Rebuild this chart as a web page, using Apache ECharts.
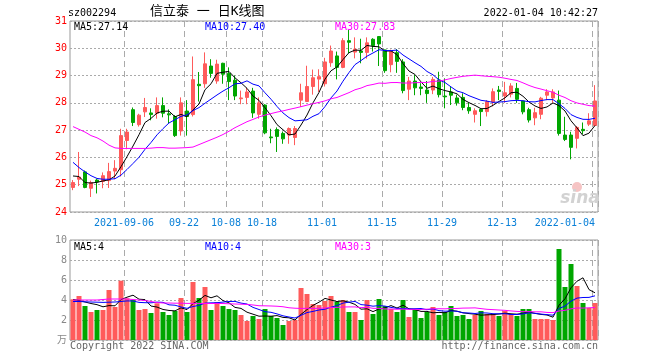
<!DOCTYPE html>
<html>
<head>
<meta charset="utf-8">
<script src="https://cdn.jsdelivr.net/npm/echarts@6/dist/echarts.min.js"></script>
<style>
html,body{margin:0;padding:0;background:#fff;}
#chart{width:660px;height:360px;}
</style>
</head>
<body>
<div id="chart"></div>
<script>
// ---- data ----
const dates = [
'2021-08-24','2021-08-25','2021-08-26','2021-08-27','2021-08-30','2021-08-31',
'2021-09-01','2021-09-02','2021-09-03','2021-09-06','2021-09-07','2021-09-08','2021-09-09','2021-09-10',
'2021-09-13','2021-09-14','2021-09-15','2021-09-16','2021-09-17','2021-09-22','2021-09-23','2021-09-24',
'2021-09-27','2021-09-28','2021-09-29','2021-09-30',
'2021-10-08','2021-10-11','2021-10-12','2021-10-13','2021-10-14','2021-10-15','2021-10-18','2021-10-19',
'2021-10-20','2021-10-21','2021-10-22','2021-10-25','2021-10-26','2021-10-27','2021-10-28','2021-10-29',
'2021-11-01','2021-11-02','2021-11-03','2021-11-04','2021-11-05','2021-11-08','2021-11-09','2021-11-10',
'2021-11-11','2021-11-12','2021-11-15','2021-11-16','2021-11-17','2021-11-18','2021-11-19','2021-11-22',
'2021-11-23','2021-11-24','2021-11-25','2021-11-26','2021-11-29','2021-11-30',
'2021-12-01','2021-12-02','2021-12-03','2021-12-06','2021-12-07','2021-12-08','2021-12-09','2021-12-10',
'2021-12-13','2021-12-14','2021-12-15','2021-12-16','2021-12-17','2021-12-20','2021-12-21','2021-12-22',
'2021-12-23','2021-12-24','2021-12-27','2021-12-28','2021-12-29','2021-12-30','2021-12-31',
'2022-01-04'];

const opens = [
24.90,25.20,25.47,24.87,25.17,25.12,25.15,25.50,25.55,26.62,
27.75,27.20,27.67,27.63,27.62,27.90,27.60,27.50,26.97,27.70,
27.57,28.68,28.70,29.35,28.80,29.45,29.08,28.83,28.15,28.20,
28.43,27.58,27.92,26.75,27.02,26.88,26.82,26.73,28.10,28.05,
28.60,28.87,28.70,29.47,29.72,29.30,30.28,29.86,29.90,29.85,
30.33,30.43,29.94,29.40,29.84,29.50,28.50,28.80,28.58,28.47,
28.47,28.84,28.25,28.40,28.18,28.20,27.83,27.58,27.76,27.68,
28.03,28.47,28.25,28.32,28.53,28.07,27.75,27.45,27.58,28.28,
28.18,28.10,26.82,26.82,26.70,27.03,27.22,27.17];

const closes = [
25.08,25.28,24.90,25.08,25.10,25.33,25.48,25.60,26.80,26.93,
27.28,27.55,27.83,27.57,27.90,27.62,27.56,26.80,28.00,27.50,
28.85,28.63,29.43,29.08,29.42,29.05,28.78,28.25,28.18,28.40,
27.63,28.00,26.90,26.72,26.77,26.68,27.06,27.06,28.37,28.60,
28.92,28.96,29.50,29.90,29.30,30.28,30.22,29.97,29.85,30.20,
30.10,30.16,29.18,29.88,29.52,28.45,28.80,28.55,28.53,28.34,
28.86,28.30,28.22,28.28,28.00,27.83,27.71,27.71,27.68,28.04,
28.41,28.42,28.37,28.62,28.13,27.67,27.37,27.64,28.17,28.40,
28.40,26.88,26.66,26.37,27.10,26.98,27.34,28.07];

const highs = [
25.17,26.20,25.52,25.15,25.22,25.45,25.80,25.90,27.05,27.05,
27.83,27.60,28.18,27.80,28.20,28.20,27.76,27.55,28.20,28.10,
29.70,29.13,29.85,29.60,29.58,29.47,29.30,29.00,28.45,28.55,
28.55,28.20,27.95,27.05,27.10,26.95,27.10,27.15,28.70,29.36,
29.22,29.23,29.65,30.10,29.88,30.37,30.67,30.40,30.35,30.40,
30.37,30.45,29.95,29.95,29.97,29.60,28.95,29.02,28.72,28.80,
28.95,29.14,28.90,28.58,28.30,28.35,28.00,27.80,27.78,28.10,
28.53,28.62,28.77,28.72,28.73,28.08,27.82,27.82,28.22,28.50,
28.50,28.45,27.49,26.94,27.15,27.28,27.62,28.65];

const lows = [
24.80,24.95,24.87,24.55,24.68,24.87,24.88,25.20,25.30,26.30,
27.15,27.13,27.48,27.36,27.42,27.47,27.25,26.75,26.80,26.80,
27.50,28.05,28.55,28.92,28.70,28.70,28.10,28.10,27.95,27.95,
27.45,27.42,26.85,26.52,26.20,26.50,26.50,26.45,27.85,28.03,
28.30,28.40,28.60,29.32,28.86,29.27,29.82,29.63,29.45,29.62,
29.88,29.35,29.10,29.12,29.10,28.35,28.10,28.28,28.28,28.00,
28.32,28.20,27.80,27.92,27.90,27.73,27.60,27.28,27.15,27.50,
27.87,28.10,28.00,28.20,28.00,27.58,27.28,27.18,27.40,28.10,
28.00,26.80,26.60,25.93,26.33,26.85,27.15,27.14];

// volume (万手)
const volumes = [
4.07,4.40,3.40,2.80,3.00,3.00,5.00,3.30,5.93,4.17,
4.00,3.00,3.10,2.70,3.67,2.80,2.50,2.90,4.20,2.80,
5.80,4.20,5.30,3.00,3.80,3.40,3.10,3.00,2.50,1.90,
2.40,2.10,3.10,2.40,2.20,1.50,1.90,2.00,5.20,4.60,
3.60,3.50,3.90,4.40,3.80,4.00,2.80,2.80,2.00,4.00,
2.60,4.10,3.40,3.10,2.80,4.00,2.30,3.00,2.20,2.80,
3.30,2.50,2.80,3.40,2.40,2.50,2.10,2.50,2.90,2.60,
2.60,2.40,2.90,2.60,2.40,3.10,3.10,2.10,2.10,2.10,
2.00,9.10,5.30,7.60,5.40,3.70,3.20,3.70];

// moving-average values at the start of the window (read from the chart,
// they depend on trading days before the first candle)
const ma5Head  = [25.32,25.30,25.08,25.06];
const ma10Head = [25.82,25.63,25.47,25.33,25.23,25.20,25.20,25.22,25.35];
const ma30Head = [27.13,27.03,26.93,26.80,26.72,26.60,26.45,26.35,26.33,26.33,
                  26.33,26.33,26.33,26.34,26.36,26.36,26.34,26.34,26.35,26.36,
                  26.38,26.47,26.56,26.65,26.74,26.84,26.96,27.09,27.20];
const vma5Head  = [4.05,3.95,3.80,3.65];
const vma10Head = [3.85,3.85,3.82,3.80,3.78,3.76,3.78,3.80,3.85];
const vma30Head = [4.00,4.00,4.00,4.00,4.00,4.05,4.10,4.10,4.10,4.10,
                   4.05,4.00,3.95,3.85,3.75,3.70,3.70,3.68,3.68,3.66,
                   3.66,3.66,3.65,3.65,3.65,3.65,3.62,3.60,3.58];

// x-axis tick labels
const tickDates  = ['2021-09-06','2021-09-22','2021-10-08','2021-10-18','2021-11-01','2021-11-15','2021-11-29','2021-12-13','2022-01-04'];
const tickLabels = ['2021-09-06','09-22','10-08','10-18','11-01','11-15','11-29','12-13','2022-01-04'];
const volTickDates = ['2021-09-06','2021-09-22','2021-10-18','2021-11-01','2021-11-15','2021-11-29','2021-12-13','2022-01-04'];

const priceLegend = ['MA5:27.14','MA10:27.40','MA30:27.83'];
const volLegend   = ['MA5:4','MA10:4','MA30:3'];
const volUnit     = '万';
const headerCode  = 'sz002294';
const headerTitle = '信立泰 一 日K线图';
const headerTime  = '2022-01-04 10:42:27';

// ---- build ----
function movingAvg(vals, n, head) {
  return vals.map((v, i) => {
    if (i < n - 1) return head[i];
    let s = 0;
    for (let k = i - n + 1; k <= i; k++) s += vals[k];
    return +(s / n).toFixed(3);
  });
}
const UP = '#ff5b5b', DOWN = '#00a600';
const MONO = '"DejaVu Sans Mono", monospace';
const kData = dates.map((d, i) => [opens[i], closes[i], lows[i], highs[i]]);
const volData = volumes.map((v, i) => ({value: v, itemStyle: {color: closes[i] >= opens[i] ? UP : DOWN}}));
const labelMap = {};
tickDates.forEach((d, i) => labelMap[d] = tickLabels[i]);
const lastDate = dates[dates.length - 1];

const dashed = {color: '#aaa', type: [6, 4], width: 1};
const dotted = {color: '#aaa', type: [2, 2], width: 1};
const lineSeries = (name, data, color, xi) => ({
  name, type: 'line', data, xAxisIndex: xi, yAxisIndex: xi, symbol: 'none',
  lineStyle: {color, width: 1}, itemStyle: {color}, silent: true, z: 5
});

const chart = echarts.init(document.getElementById('chart'), null, {renderer: 'canvas'});
chart.setOption({
  animation: false,
  backgroundColor: '#fff',
  grid: [
    {left: 70, right: 62, top: 21, height: 191, show: true, borderColor: '#999', borderWidth: 1},
    {left: 70, right: 62, top: 240, height: 100, show: true, borderColor: '#999', borderWidth: 1}
  ],
  xAxis: [
    {type: 'category', gridIndex: 0, data: dates, boundaryGap: true,
     axisLine: {show: false}, axisTick: {show: false},
     axisLabel: {interval: (i, v) => tickDates.includes(v),
                 formatter: v => labelMap[v] ? (v === lastDate ? '{e|' + labelMap[v] + '}' : '{a|' + labelMap[v] + '}') : '',
                 rich: {a: {padding: [0, 6, 0, 0], color: '#0a80d8', fontFamily: MONO, fontSize: 10},
                        e: {color: '#0a80d8', fontFamily: MONO, fontSize: 10}},
                 color: '#0a80d8', fontFamily: MONO, fontSize: 10, margin: 6, alignMaxLabel: 'right'},
     splitLine: {show: true, interval: (i, v) => tickDates.includes(v), lineStyle: dashed}},
    {type: 'category', gridIndex: 1, data: dates, boundaryGap: true,
     axisLine: {show: false}, axisTick: {show: false}, axisLabel: {show: false},
     splitLine: {show: true, interval: (i, v) => volTickDates.includes(v), lineStyle: dashed}}
  ],
  yAxis: [
    {type: 'value', gridIndex: 0, min: 24, max: 31, interval: 1,
     axisLine: {show: false}, axisTick: {show: false},
     axisLabel: {color: '#ff0000', fontFamily: MONO, fontSize: 10, margin: 3},
     splitLine: {show: true, lineStyle: dotted}},
    {type: 'value', gridIndex: 1, min: 0, max: 10, interval: 2,
     axisLine: {show: false}, axisTick: {show: false},
     axisLabel: {color: '#888', fontFamily: '"DejaVu Sans Mono", "Noto Sans CJK SC", monospace', fontSize: 10, margin: 3,
                 formatter: v => v === 0 ? volUnit : String(v)},
     splitLine: {show: true, lineStyle: dotted}}
  ],
  series: [
    {type: 'candlestick', xAxisIndex: 0, yAxisIndex: 0, data: kData, barWidth: 4,
     itemStyle: {color: UP, color0: DOWN, borderColor: UP, borderColor0: DOWN, borderWidth: 1}, z: 3},
    lineSeries('MA5', movingAvg(closes, 5, ma5Head), '#000000', 0),
    lineSeries('MA10', movingAvg(closes, 10, ma10Head), '#0000ff', 0),
    lineSeries('MA30', movingAvg(closes, 30, ma30Head), '#ff00ff', 0),
    {type: 'bar', xAxisIndex: 1, yAxisIndex: 1, data: volData, barWidth: 5, z: 3},
    lineSeries('VMA5', movingAvg(volumes, 5, vma5Head), '#000000', 1),
    lineSeries('VMA10', movingAvg(volumes, 10, vma10Head), '#0000ff', 1),
    lineSeries('VMA30', movingAvg(volumes, 30, vma30Head), '#ff00ff', 1)
  ],
  graphic: [
    {type: 'text', style: {text: headerCode, x: 68, y: 13, font: '10px ' + MONO, fill: '#000', textVerticalAlign: 'middle'}},
    {type: 'text', style: {text: headerTitle, x: 150, y: 12, font: '13px "DejaVu Sans Mono", "Noto Sans CJK SC"', fill: '#000', textVerticalAlign: 'middle'}},
    {type: 'text', style: {text: headerTime, x: 598, y: 13, font: '10px ' + MONO, fill: '#000', textAlign: 'right', textVerticalAlign: 'middle'}},
    {type: 'text', z: 10, style: {text: priceLegend[0], x: 74, y: 27, font: '10px ' + MONO, fill: '#000', textVerticalAlign: 'middle'}},
    {type: 'text', z: 10, style: {text: priceLegend[1], x: 205, y: 27, font: '10px ' + MONO, fill: '#0000ff', textVerticalAlign: 'middle'}},
    {type: 'text', z: 10, style: {text: priceLegend[2], x: 335, y: 27, font: '10px ' + MONO, fill: '#ff00ff', textVerticalAlign: 'middle'}},
    {type: 'text', z: 10, style: {text: volLegend[0], x: 74, y: 247, font: '10px ' + MONO, fill: '#000', textVerticalAlign: 'middle'}},
    {type: 'text', z: 10, style: {text: volLegend[1], x: 205, y: 247, font: '10px ' + MONO, fill: '#0000ff', textVerticalAlign: 'middle'}},
    {type: 'text', z: 10, style: {text: volLegend[2], x: 335, y: 247, font: '10px ' + MONO, fill: '#ff00ff', textVerticalAlign: 'middle'}},
    {type: 'text', style: {text: 'Copyright 2022 SINA.COM', x: 70, y: 346, font: '10px ' + MONO, fill: '#666', textVerticalAlign: 'middle'}},
    {type: 'text', style: {text: 'http://finance.sina.com.cn', x: 598, y: 346, font: '10px ' + MONO, fill: '#666', textAlign: 'right', textVerticalAlign: 'middle'}},
    {type: 'circle', z: 1, shape: {cx: 577, cy: 187, r: 5}, style: {fill: '#f6c4c4'}},
    {type: 'text', z: 1, style: {text: 'sina', x: 580, y: 199, font: 'italic bold 17px "DejaVu Sans"', fill: '#d2d2d2', textAlign: 'center', textVerticalAlign: 'middle'}}
  ]
});
</script>
</body>
</html>
